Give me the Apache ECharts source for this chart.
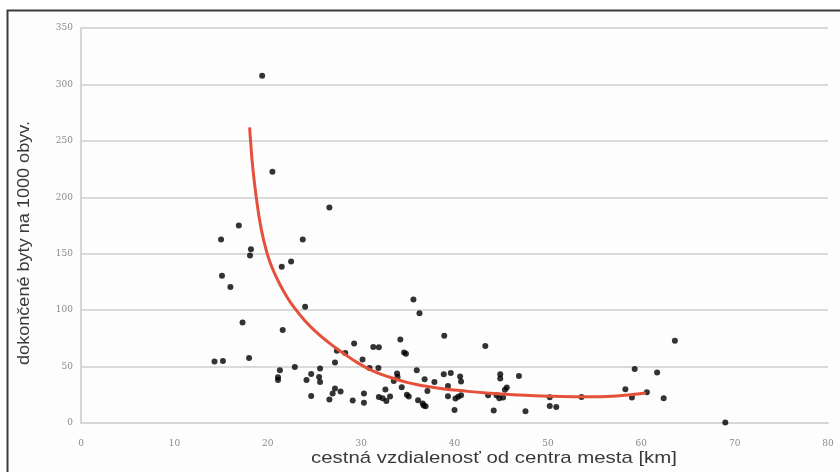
<!DOCTYPE html>
<html>
<head>
<meta charset="utf-8">
<script src="https://cdn.jsdelivr.net/npm/echarts@6/dist/echarts.min.js"></script>
<style>
html,body{margin:0;padding:0;background:#fff;}
#c{width:840px;height:472px;}
</style>
</head>
<body>
<div id="c"></div>
<script>
// Scatter data: distance [km] and finished dwellings per 1000 inhabitants
var distKm = [19.4,20.5,26.6,16.9,15.0,23.75,18.2,18.1,15.1,16.0,21.5,22.5,24.0,17.3,21.6,14.3,15.2,18.0,21.3,21.1,21.1,22.9,24.15,24.65,24.65,25.6,25.5,25.6,27.4,27.2,28.3,29.25,27.2,26.95,27.8,26.6,29.1,30.15,30.9,31.85,30.3,30.3,31.3,31.9,31.9,32.3,32.6,32.7,33.1,34.2,34.6,34.8,33.85,33.9,33.5,34.35,34.9,35.1,35.6,36.25,35.96,36.1,36.6,36.9,36.7,36.8,37.85,37.1,38.9,38.85,39.6,39.3,39.3,40.6,40.7,40.1,40.4,40.7,40.0,43.3,43.6,44.2,44.5,44.8,45.2,45.4,45.6,44.9,44.9,46.9,47.6,50.2,50.2,50.9,53.6,58.3,59.0,59.3,60.6,61.7,62.4,63.6,69.0];
var dwellings = [307.6,222.7,191,175,162.5,162.5,154,148.5,130.5,120.5,138.5,143,103,89,82.5,54.5,55,57.7,46.8,40.5,38.2,49.7,38.2,43.5,24,48.3,40.7,36.3,64,53.7,62.1,70.5,30.6,26.1,28,20.8,20,56.2,48.8,48.8,26.2,17.9,67.4,67.2,23.1,22,29.6,19.5,23.5,74,62.5,61.3,43.8,40.8,37.3,31.7,25,23.5,109.5,97.3,46.8,20.1,17.2,14.8,15.6,38.8,36.3,28.4,77.2,43.2,44.4,32.7,23.8,41.1,36.7,21.6,23.3,24.6,11.6,68.3,24.6,11,24.6,22,22.5,29.5,31.5,43.2,39.4,41.6,10.4,22.8,15.1,14.2,23,29.9,22.5,47.9,27.2,44.7,21.9,72.8,0.5];

// Trend curve
var trendX = [18.06,18.16,18.4,18.77,19.3,19.94,20.5,21.2,22.0,22.9,24.0,25.2,26.5,27.8,29.6,31.3,33.1,34.9,36.3,38.5,40.6,43.4,47,50.6,54.1,57.7,60.5];
var trendY = [262,250,226,200,172,150,137,124.5,112.5,101.5,90.5,80.5,71.5,63.5,53.5,46,40.5,36,33.5,30.6,28.7,26.6,24.8,23.7,23.2,24.2,26.5];

var xTicks = [0,10,20,30,40,50,60,70,80];
var yTicks = [0,50,100,150,200,250,300,350];

var xTitle = 'cestná vzdialenosť od centra mesta [km]';
var yTitle = 'dokončené byty na 1000 obyv.';

var scatterData = distKm.map(function(x,i){return [x, dwellings[i]];});
var trendData = trendX.map(function(x,i){return [x, trendY[i]];});

var chart = echarts.init(document.getElementById('c'), null, {renderer:'canvas'});
chart.setOption({
  animation:false,
  backgroundColor:'#ffffff',
  graphic:[
    {type:'rect', z:-10, shape:{x:7.5,y:10.5,width:850,height:480},
     style:{fill:'#fdfdfd', stroke:'#3c3c3c', lineWidth:2}},
    {type:'text', z:10, x:494, y:467, scaleX:1.2, scaleY:1,
     style:{text:xTitle, fill:'#3a3a3a', font:'17px "Liberation Sans", Arial, sans-serif', textAlign:'center', textVerticalAlign:'bottom'}},
    {type:'text', z:10, rotation:Math.PI/2, x:25, y:243, scaleX:1.13, scaleY:1,
     style:{text:yTitle, fill:'#3a3a3a', font:'16px "Liberation Sans", Arial, sans-serif', textAlign:'center', textVerticalAlign:'middle'}}
  ],
  grid:{left:81, right:12, top:28, bottom:49, containLabel:false},
  xAxis:{
    type:'value', min:xTicks[0], max:xTicks[xTicks.length-1], interval:10,
    axisLine:{show:true, lineStyle:{color:'#d6d6d6', width:2}},
    axisTick:{show:false},
    splitLine:{show:false},
    axisLabel:{color:'#8a8a8a', fontSize:9, margin:16, fontFamily:'"DejaVu Serif", serif'}
  },
  yAxis:{
    type:'value', min:yTicks[0], max:yTicks[yTicks.length-1], interval:50,
    axisLine:{show:true, lineStyle:{color:'#d6d6d6', width:2}},
    axisTick:{show:false},
    splitLine:{show:true, lineStyle:{color:'#dadada', width:2}},
    axisLabel:{color:'#8a8a8a', fontSize:9, margin:8, fontFamily:'"DejaVu Serif", serif'}
  },
  series:[
    {type:'scatter', data:scatterData, symbol:'circle', symbolSize:6,
     itemStyle:{color:'#000000'}, z:3},
    {type:'line', data:trendData, smooth:0.5, showSymbol:false, symbol:'none',
     lineStyle:{color:'#e4503a', width:3}, z:4}
  ]
});
</script>
</body>
</html>
